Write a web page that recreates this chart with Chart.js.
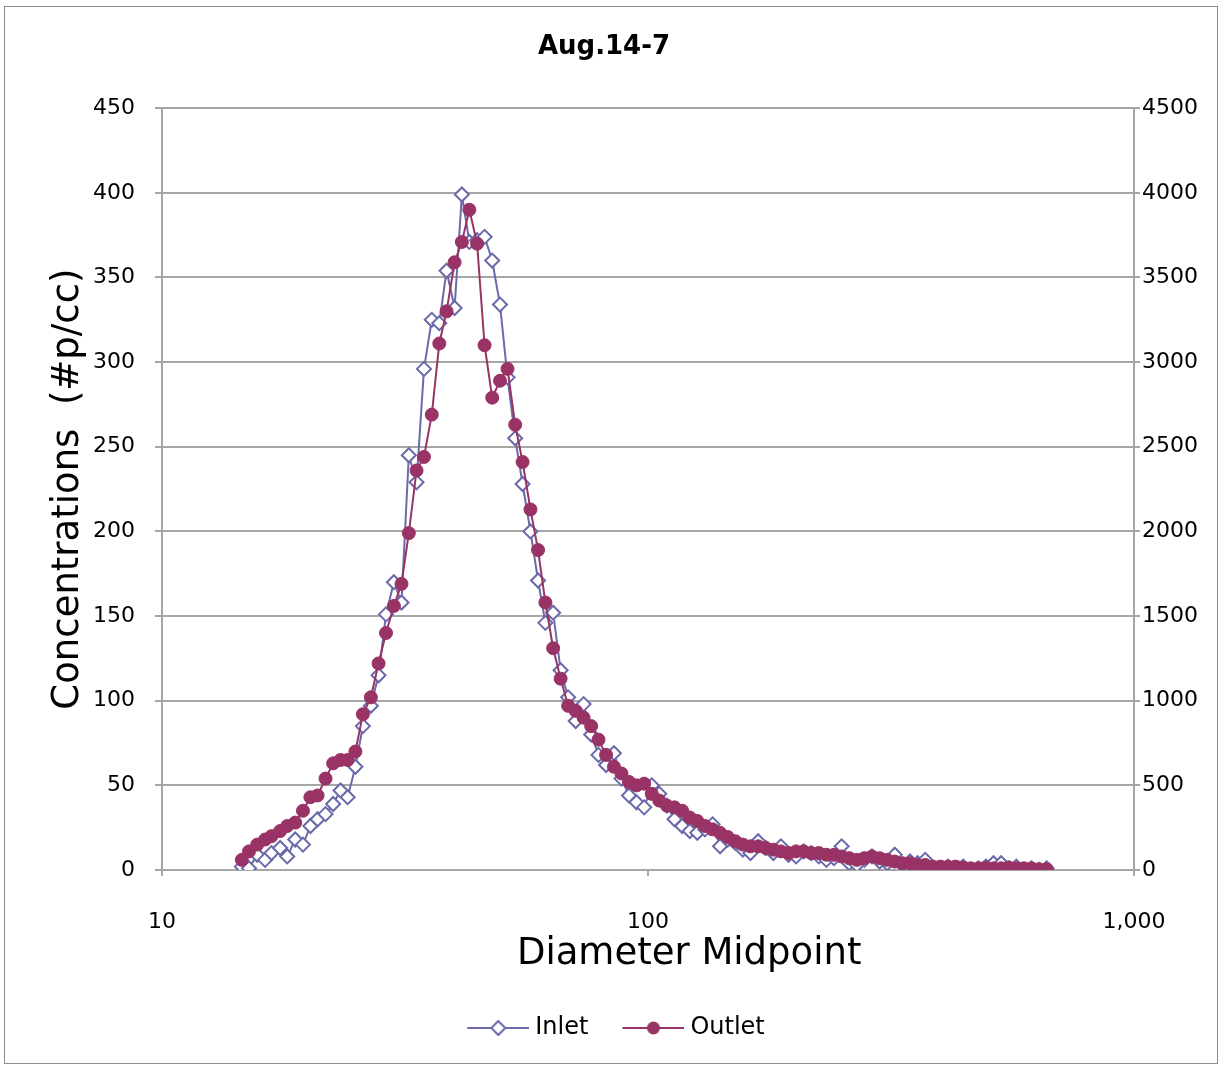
<!DOCTYPE html>
<html>
<head>
<meta charset="utf-8">
<title>Aug.14-7</title>
<script src="https://cdn.jsdelivr.net/npm/chart.js@4"></script>
<style>
  body { margin: 0; background: #fff; }
  canvas { display: block; }
</style>
</head>
<body>
<canvas id="grafico" width="1230" height="1067"></canvas>
<script>
// diameter midpoints (nm)
const diameters = [14.6, 15.1, 15.7, 16.3, 16.8, 17.5, 18.1, 18.8, 19.5, 20.2,
    20.9, 21.7, 22.5, 23.3, 24.1, 25.0, 25.9, 26.9, 27.9, 28.9,
    30.0, 31.1, 32.2, 33.4, 34.6, 35.9, 37.2, 38.5, 40.0, 41.4,
    42.9, 44.5, 46.1, 47.8, 49.6, 51.4, 53.3, 55.2, 57.3, 59.4,
    61.5, 63.8, 66.1, 68.5, 71.0, 73.7, 76.4, 79.1, 82.0, 85.1,
    88.2, 91.4, 94.7, 98.2, 101.8, 105.5, 109.4, 113.4, 117.6, 121.9,
    126.3, 131.0, 135.8, 140.7, 145.9, 151.2, 156.8, 162.5, 168.5, 174.7,
    181.1, 187.7, 194.6, 201.7, 209.1, 216.7, 224.7, 232.9, 241.4, 250.3,
    259.5, 269.0, 278.8, 289.0, 299.6, 310.6, 322.0, 333.8, 346.0, 358.7,
    371.8, 385.4, 399.5, 414.2, 429.4, 445.1, 461.4, 478.3, 495.8, 514.0,
    532.8, 552.3, 572.5, 593.5, 615.3, 637.8, 661.2];

const inlet = [2, 1, 9, 6, 10, 13, 8, 18, 15, 26,
    30, 33, 39, 47, 43, 61, 85, 97, 115, 151,
    170, 158, 245, 229, 296, 325, 323, 354, 332, 399,
    371, 372, 374, 360, 334, 291, 255, 228, 200, 171,
    146, 152, 118, 102, 88, 98, 80, 68, 62, 69,
    54, 44, 40, 37, 50, 45, 38, 30, 26, 23,
    22, 24, 27, 14, 18, 16, 12, 10, 17, 13,
    10, 14, 9, 8, 11, 10, 8, 6, 7, 14,
    4, 3, 6, 8, 5, 4, 9, 3, 5, 4,
    6, 1, 0, 2, 1, 2, 0, 1, 2, 4,
    4, 1, 2, 0, 1, 0, 1];

const outlet = [6, 11, 15, 18, 20, 23, 26, 28, 35, 43,
    44, 54, 63, 65, 65, 70, 92, 102, 122, 140,
    156, 169, 199, 236, 244, 269, 311, 330, 359, 371,
    390, 370, 310, 279, 289, 296, 263, 241, 213, 189,
    158, 131, 113, 97, 94, 90, 85, 77, 68, 61,
    57, 52, 50, 51, 45, 41, 38, 37, 35, 31,
    29, 26, 24, 22, 19.5, 17, 15, 14, 14, 13,
    12, 11, 10, 11, 11, 10, 10, 9, 9, 8,
    7, 6, 7, 8, 7, 6, 5, 4, 4, 3,
    3, 2, 2, 2, 2, 1.5, 1, 1, 1.5, 1,
    1, 1.5, 1, 1, 1, 0.5, 0.5];

const xTicks = [10, 100, 1000];
const xTickLabels = ['10', '100', '1,000'];

const colorInlet = '#6a6aaa';
const colorOutlet = '#993366';
const gris = '#a6a6a6';
const fuente = 'DejaVu Sans';

// line + marker sample for the legend
function marcadorLeyenda(color, tipo) {
    const c = document.createElement('canvas');
    c.width = 92;
    c.height = 20;
    const g = c.getContext('2d');
    g.strokeStyle = color;
    g.lineWidth = 2;
    g.beginPath();
    g.moveTo(30, 10);
    g.lineTo(92, 10);
    g.stroke();
    g.beginPath();
    if (tipo === 'diamond') {
        g.fillStyle = '#fff';
        g.moveTo(61, 3);
        g.lineTo(68, 10);
        g.lineTo(61, 17);
        g.lineTo(54, 10);
        g.closePath();
        g.fill();
        g.stroke();
    } else {
        g.fillStyle = color;
        g.arc(61, 10, 6.5, 0, Math.PI * 2);
        g.fill();
    }
    return c;
}

const marco = {
    id: 'marco',
    beforeDraw(chart) {
        const ctx = chart.ctx;
        ctx.save();
        ctx.fillStyle = '#fff';
        ctx.fillRect(0, 0, chart.width, chart.height);
        ctx.restore();
    },
    afterDraw(chart) {
        const ctx = chart.ctx;
        ctx.save();
        ctx.fillStyle = '#fff';
        ctx.fillRect(1218, 0, chart.width - 1218, chart.height);
        ctx.strokeStyle = '#8c8c8c';
        ctx.lineWidth = 1;
        ctx.strokeRect(4.5, 6.5, 1213, 1057);
        ctx.restore();
    }
};

window.onload = function () {
    const ctx = document.getElementById('grafico').getContext('2d');
    const marcadores = [marcadorLeyenda(colorInlet, 'diamond'), marcadorLeyenda(colorOutlet, 'circle')];

    new Chart(ctx, {
        type: 'line',
        data: {
            datasets: [
                {
                    label: 'Inlet',
                    data: diameters.map((d, i) => ({ x: d, y: inlet[i] })),
                    borderColor: colorInlet,
                    backgroundColor: '#fff',
                    borderWidth: 2,
                    pointStyle: 'rectRot',
                    pointRadius: 7,
                    pointBorderWidth: 2,
                    pointBackgroundColor: '#fff',
                    pointBorderColor: colorInlet,
                    tension: 0,
                    order: 1
                },
                {
                    label: 'Outlet',
                    data: diameters.map((d, i) => ({ x: d, y: outlet[i] })),
                    borderColor: colorOutlet,
                    backgroundColor: colorOutlet,
                    borderWidth: 2,
                    pointStyle: 'circle',
                    pointRadius: 6.5,
                    pointBorderWidth: 1,
                    pointBackgroundColor: colorOutlet,
                    pointBorderColor: colorOutlet,
                    tension: 0,
                    order: 0
                }
            ]
        },
        options: {
            responsive: false,
            animation: false,
            devicePixelRatio: 1,
            layout: { padding: { left: 0, right: 22, top: 0, bottom: 17 } },
            plugins: {
                title: {
                    display: true,
                    text: 'Aug.14-7',
                    color: '#000',
                    font: { family: fuente, size: 26, weight: 'bold' },
                    padding: { top: 32, bottom: 45 }
                },
                legend: {
                    position: 'bottom',
                    labels: {
                        color: '#000',
                        font: { family: fuente, size: 24 },
                        usePointStyle: true,
                        pointStyleWidth: 80,
                        padding: 10,
                        sort: (a, b) => a.datasetIndex - b.datasetIndex,
                        generateLabels: chart =>
                            Chart.defaults.plugins.legend.labels.generateLabels(chart)
                                .map(l => ({ ...l, pointStyle: marcadores[l.datasetIndex] }))
                    }
                },
                tooltip: { enabled: false }
            },
            scales: {
                x: {
                    type: 'logarithmic',
                    position: 'bottom',
                    min: 10,
                    max: 1000,
                    afterBuildTicks: s => { s.ticks = xTicks.map(v => ({ value: v })); },
                    afterFit: s => { s.height = 136; },
                    ticks: {
                        color: '#000',
                        font: { family: fuente, size: 22 },
                        padding: 33,
                        autoSkip: false,
                        maxRotation: 0,
                        callback: (v) => xTickLabels[xTicks.indexOf(v)] ?? ''
                    },
                    grid: { drawOnChartArea: false, color: gris, lineWidth: 2, tickLength: 6 },
                    border: { color: gris, width: 2 },
                    title: {
                        display: true,
                        text: '\u00a0\u00a0\u00a0\u00a0\u00a0\u00a0\u00a0Diameter Midpoint',
                        color: '#000',
                        font: { family: fuente, size: 37 },
                        padding: { top: 0, bottom: 29 }
                    }
                },
                y: {
                    position: 'left',
                    min: 0,
                    max: 450,
                    afterFit: s => { s.width = 162; },
                    ticks: {
                        stepSize: 50,
                        color: '#000',
                        font: { family: fuente, size: 22 },
                        padding: 20
                    },
                    grid: { color: gris, lineWidth: 2, tickLength: 7 },
                    border: { color: gris, width: 2 },
                    title: {
                        display: true,
                        text: 'Concentrations  (#p/cc)',
                        color: '#000',
                        font: { family: fuente, size: 37 },
                        padding: { top: 46, bottom: 0 }
                    }
                },
                y2: {
                    position: 'right',
                    display: true,
                    min: 0,
                    max: 4500,
                    afterFit: s => { s.width = 74; },
                    ticks: {
                        stepSize: 500,
                        color: '#000',
                        font: { family: fuente, size: 22 },
                        padding: 2,
                        callback: v => String(v)
                    },
                    grid: { drawOnChartArea: false, color: gris, lineWidth: 2, tickLength: 6 },
                    border: { color: gris, width: 2 }
                }
            }
        },
        plugins: [marco]
    });
};
</script>
</body>
</html>
